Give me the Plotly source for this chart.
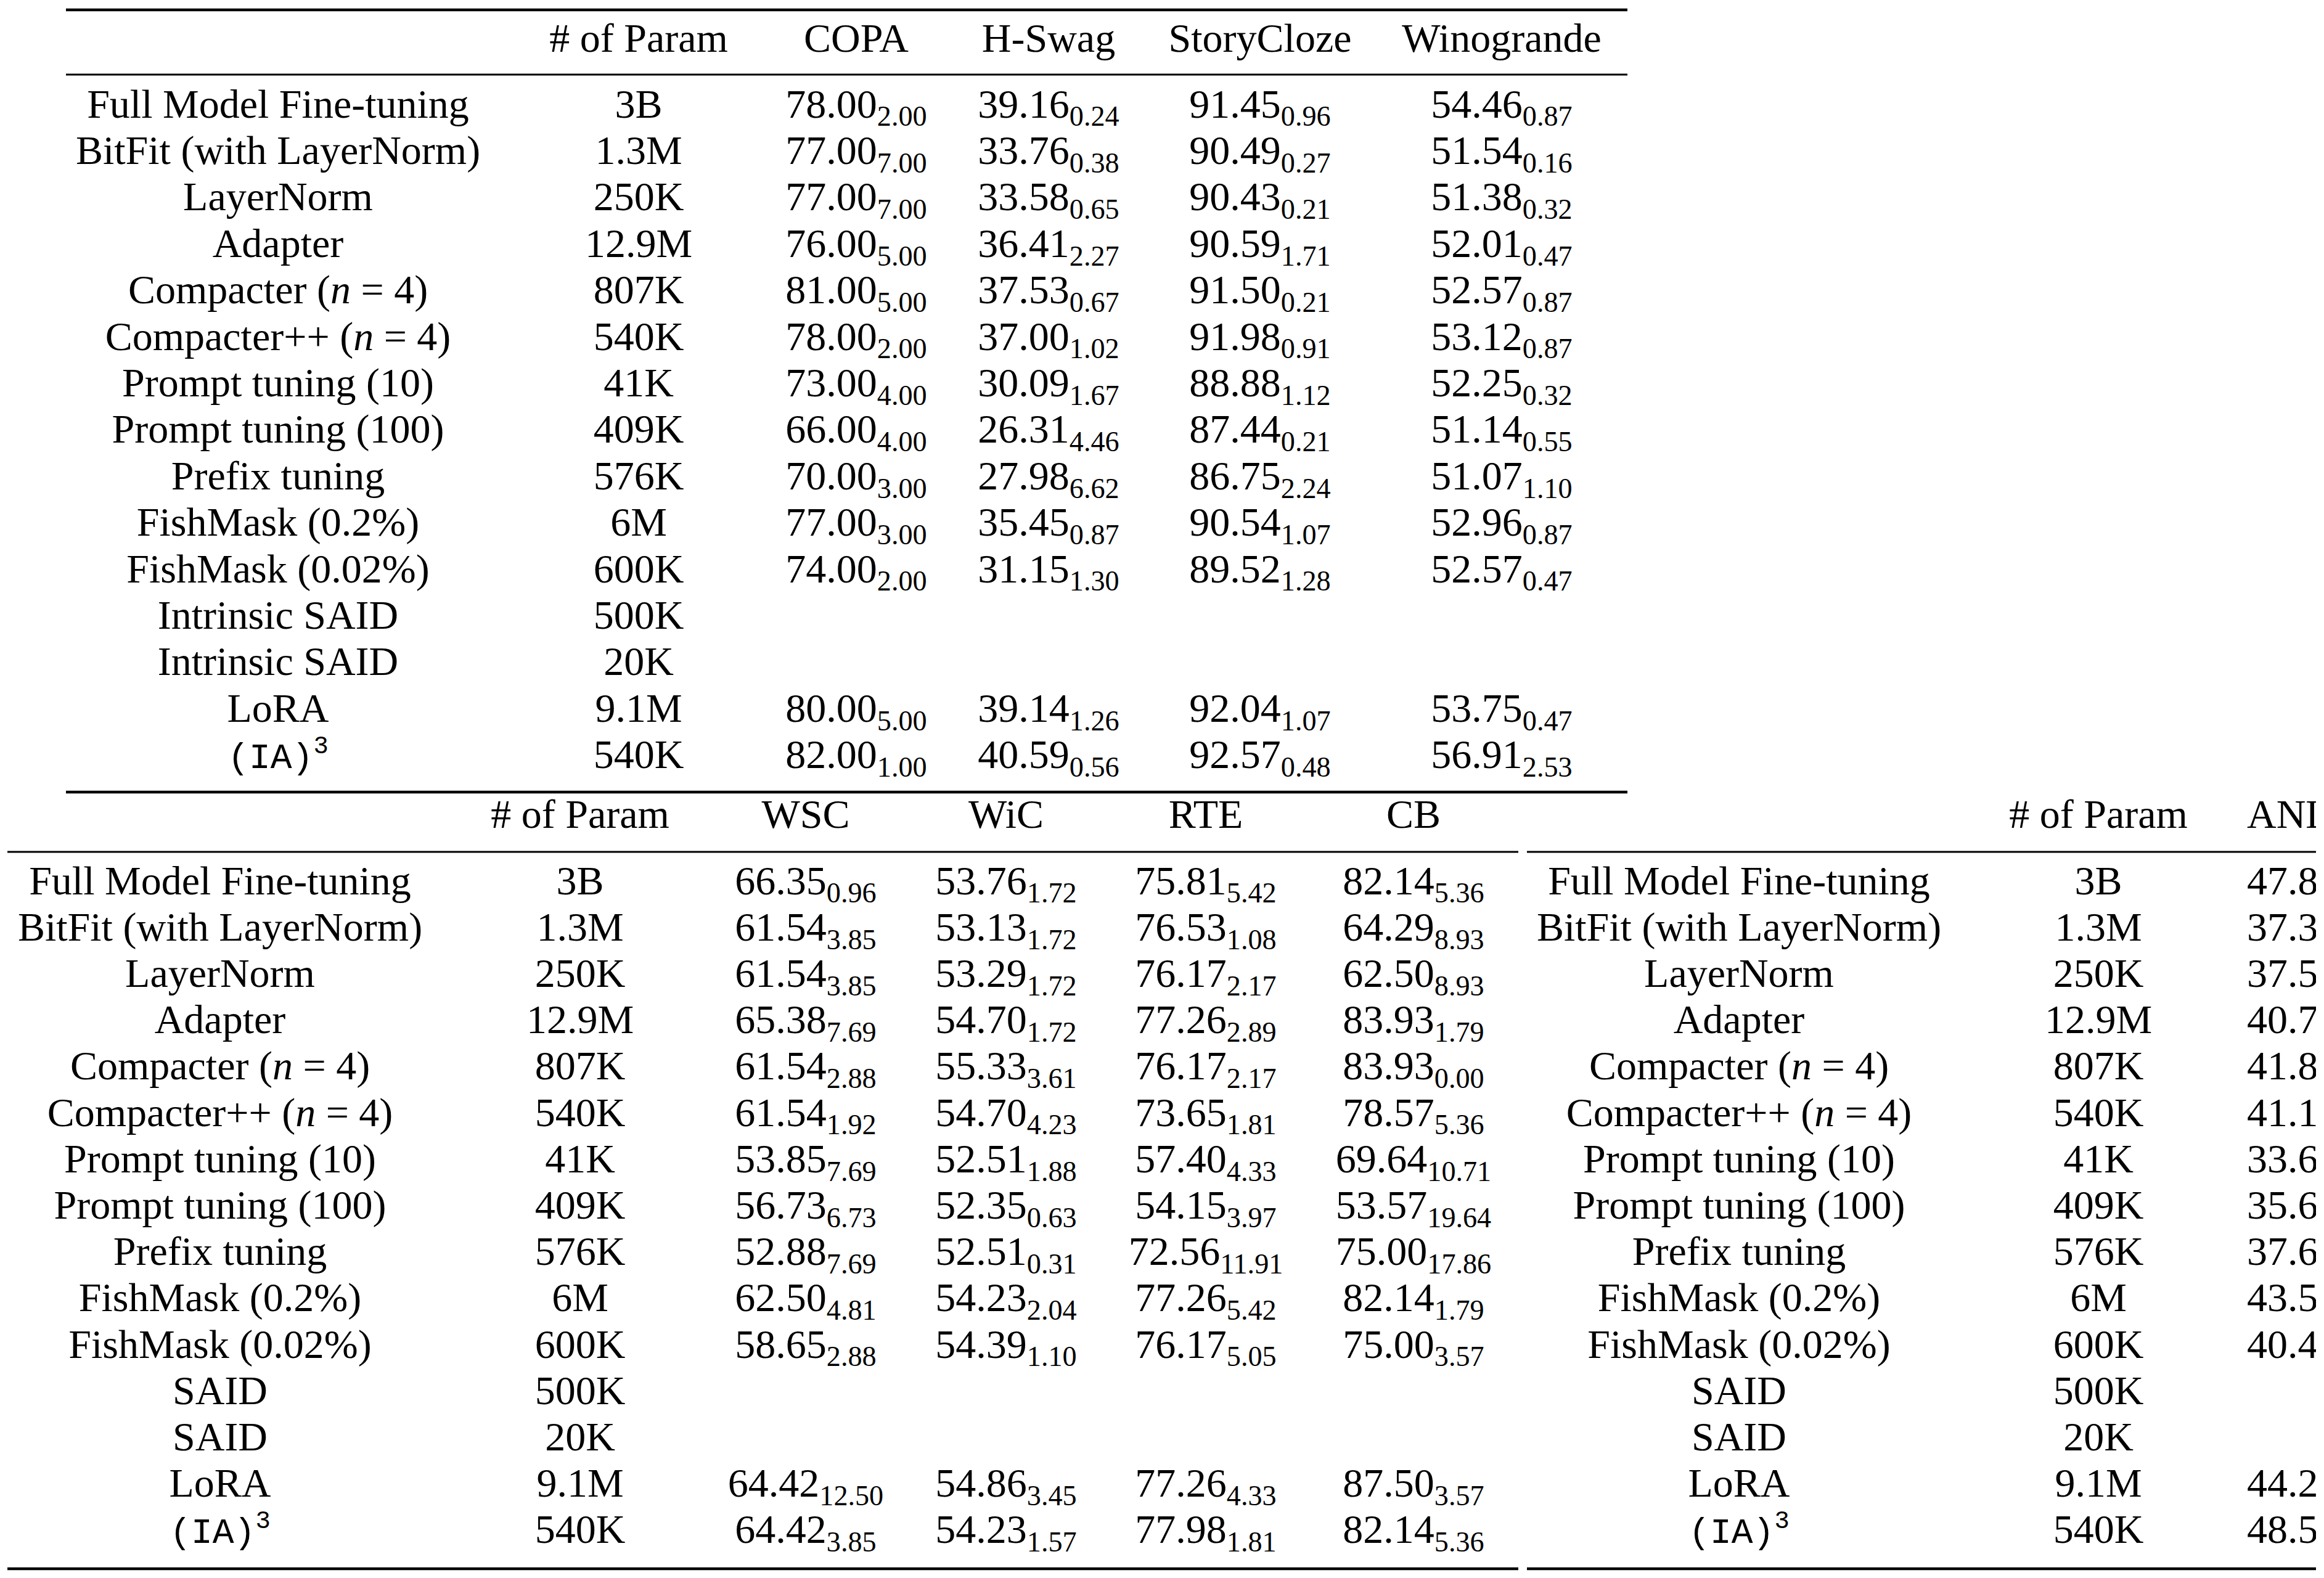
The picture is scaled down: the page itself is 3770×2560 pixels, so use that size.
import plotly.graph_objects as go

# ---- table contents ----
mono = "<span style=\"font-family:Liberation Mono;font-size:58px\">(IA)<sup>3</sup></span>"
methods_top = ["Full Model Fine-tuning", "BitFit (with LayerNorm)", "LayerNorm", "Adapter",
               "Compacter (<i>n</i> = 4)", "Compacter++ (<i>n</i> = 4)", "Prompt tuning (10)",
               "Prompt tuning (100)", "Prefix tuning", "FishMask (0.2%)", "FishMask (0.02%)",
               "Intrinsic SAID", "Intrinsic SAID", "LoRA", mono]
methods_bottom = [m.replace("Intrinsic SAID", "SAID") for m in methods_top]
n_params = ["3B", "1.3M", "250K", "12.9M", "807K", "540K", "41K", "409K", "576K",
            "6M", "600K", "500K", "20K", "9.1M", "540K"]

copa_mean = [78.00, 77.00, 77.00, 76.00, 81.00, 78.00, 73.00, 66.00, 70.00, 77.00, 74.00, None, None, 80.00, 82.00]
copa_std = [2.00, 7.00, 7.00, 5.00, 5.00, 2.00, 4.00, 4.00, 3.00, 3.00, 2.00, None, None, 5.00, 1.00]
hswag_mean = [39.16, 33.76, 33.58, 36.41, 37.53, 37.00, 30.09, 26.31, 27.98, 35.45, 31.15, None, None, 39.14, 40.59]
hswag_std = [0.24, 0.38, 0.65, 2.27, 0.67, 1.02, 1.67, 4.46, 6.62, 0.87, 1.30, None, None, 1.26, 0.56]
story_mean = [91.45, 90.49, 90.43, 90.59, 91.50, 91.98, 88.88, 87.44, 86.75, 90.54, 89.52, None, None, 92.04, 92.57]
story_std = [0.96, 0.27, 0.21, 1.71, 0.21, 0.91, 1.12, 0.21, 2.24, 1.07, 1.28, None, None, 1.07, 0.48]
wino_mean = [54.46, 51.54, 51.38, 52.01, 52.57, 53.12, 52.25, 51.14, 51.07, 52.96, 52.57, None, None, 53.75, 56.91]
wino_std = [0.87, 0.16, 0.32, 0.47, 0.87, 0.87, 0.32, 0.55, 1.10, 0.87, 0.47, None, None, 0.47, 2.53]

wsc_mean = [66.35, 61.54, 61.54, 65.38, 61.54, 61.54, 53.85, 56.73, 52.88, 62.50, 58.65, None, None, 64.42, 64.42]
wsc_std = [0.96, 3.85, 3.85, 7.69, 2.88, 1.92, 7.69, 6.73, 7.69, 4.81, 2.88, None, None, 12.50, 3.85]
wic_mean = [53.76, 53.13, 53.29, 54.70, 55.33, 54.70, 52.51, 52.35, 52.51, 54.23, 54.39, None, None, 54.86, 54.23]
wic_std = [1.72, 1.72, 1.72, 1.72, 3.61, 4.23, 1.88, 0.63, 0.31, 2.04, 1.10, None, None, 3.45, 1.57]
rte_mean = [75.81, 76.53, 76.17, 77.26, 76.17, 73.65, 57.40, 54.15, 72.56, 77.26, 76.17, None, None, 77.26, 77.98]
rte_std = [5.42, 1.08, 2.17, 2.89, 2.17, 1.81, 4.33, 3.97, 11.91, 5.42, 5.05, None, None, 4.33, 1.81]
cb_mean = [82.14, 64.29, 62.50, 83.93, 83.93, 78.57, 69.64, 53.57, 75.00, 82.14, 75.00, None, None, 87.50, 82.14]
cb_std = [5.36, 8.93, 8.93, 1.79, 0.00, 5.36, 10.71, 19.64, 17.86, 1.79, 3.57, None, None, 3.57, 5.36]

# ANLI column is cut off at the right edge of the picture; only the visible part is kept
anli_visible = ["47.8", "37.3", "37.5", "40.7", "41.8", "41.1", "33.6", "35.6", "37.6",
                "43.5", "40.4", "", "", "44.2", "48.5"]

top_headers = ["# of Param", "COPA", "H-Swag", "StoryCloze", "Winogrande"]
left_headers = ["# of Param", "WSC", "WiC", "RTE", "CB"]
right_headers = ["# of Param", "ANLI"]


def cell(mean, std):
    if mean is None:
        return ""
    return f"{mean:.2f}<sub>{std:.2f}</sub>"


def col(means, stds):
    return [cell(m, s) for m, s in zip(means, stds)]


# ---- layout constants (pixels) ----
W, H = 3770, 2560
CLIP_X = 3757
FONT = dict(family="Liberation Serif", size=66, color="black")

top_x = [451, 1036, 1389, 1701, 2044, 2436]
top_head_y = 67
top_row0, top_step = 174, 75.4

left_x = [357, 941, 1307, 1632, 1956, 2293]
right_x = [2821, 3404]
anli_x = 3645
bot_head_y = 1326
bot_row0, bot_step = 1434, 75.2

n = len(methods_top)
top_rows = [top_row0 + top_step * i for i in range(n)]
bot_rows = [bot_row0 + bot_step * i for i in range(n)]

fig = go.Figure()


def add_text(xs, ys, texts, pos="middle center"):
    fig.add_trace(go.Scatter(
        x=xs, y=ys, mode="text", text=texts, textposition=pos,
        textfont=FONT, hoverinfo="skip", cliponaxis=True, showlegend=False
    ))


# top table
top_cols = [methods_top, n_params, col(copa_mean, copa_std), col(hswag_mean, hswag_std),
            col(story_mean, story_std), col(wino_mean, wino_std)]
for x, c in zip(top_x, top_cols):
    add_text([x] * n, top_rows, c)
add_text(top_x[1:], [top_head_y] * len(top_headers), top_headers)

# bottom left table
left_cols = [methods_bottom, n_params, col(wsc_mean, wsc_std), col(wic_mean, wic_std),
             col(rte_mean, rte_std), col(cb_mean, cb_std)]
for x, c in zip(left_x, left_cols):
    add_text([x] * n, bot_rows, c)
add_text(left_x[1:], [bot_head_y] * len(left_headers), left_headers)

# bottom right table (cut at the right edge)
for x, c in zip(right_x, [methods_bottom, n_params]):
    add_text([x] * n, bot_rows, c)
add_text([right_x[1]], [bot_head_y], [right_headers[0]])
add_text([anli_x] * n, bot_rows, anli_visible, pos="middle right")
add_text([anli_x], [bot_head_y], [right_headers[1]], pos="middle right")

# booktabs rules: (x0, x1, y, width)
rules = [
    (107, 2640, 16, 4.7), (107, 2640, 121, 3), (107, 2640, 1285, 4.7),
    (12, 2463, 1382, 3), (12, 2463, 2545, 4.7),
    (2477, CLIP_X, 1382, 3), (2477, CLIP_X, 2545, 4.7),
]
for x0, x1, y, w in rules:
    fig.add_shape(type="line", xref="x", yref="y", x0=x0, x1=x1, y0=y, y1=y,
                  line=dict(color="black", width=w))

fig.update_layout(
    width=W, height=H,
    margin=dict(l=0, r=W - CLIP_X, t=0, b=0),
    paper_bgcolor="white", plot_bgcolor="white",
    showlegend=False,
    xaxis=dict(range=[0, CLIP_X], visible=False, fixedrange=True),
    yaxis=dict(range=[H, 0], visible=False, fixedrange=True),
)

# drop the browser's default 8px body margin so the figure sits at the page corner
fig.write_html("out.html", config={"displayModeBar": False},
               post_script="document.body.style.margin = '0';")
